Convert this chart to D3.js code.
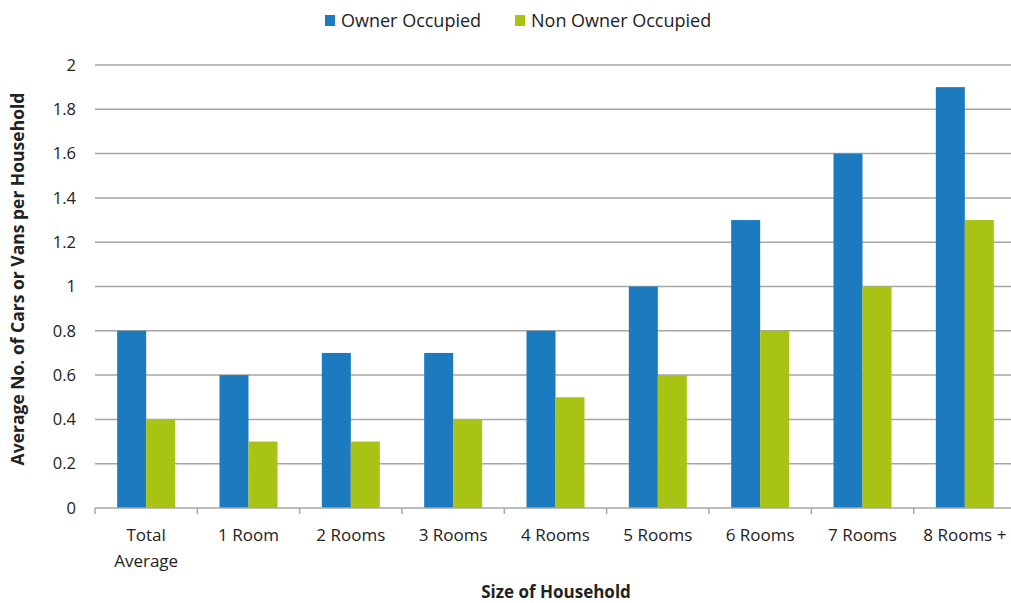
<!DOCTYPE html>
<html><head><meta charset="utf-8">
<script src="https://cdn.jsdelivr.net/npm/d3@7"></script>
<style>body{margin:0;background:#fff}svg{display:block;font-family:"Open Sans",sans-serif}</style>
</head><body><svg id="c" width="1011" height="603"></svg>
<script>
const categories = ["Total Average","1 Room","2 Rooms","3 Rooms","4 Rooms","5 Rooms","6 Rooms","7 Rooms","8 Rooms +"];
const ownerOccupied = [0.8,0.6,0.7,0.7,0.8,1.0,1.3,1.6,1.9];
const nonOwnerOccupied = [0.4,0.3,0.3,0.4,0.5,0.6,0.8,1.0,1.3];
const seriesNames = ["Owner Occupied","Non Owner Occupied"];
const yTicks = [0,0.2,0.4,0.6,0.8,1,1.2,1.4,1.6,1.8,2];
const colors = ["#1c7bbf","#a8c313"];

const svg = d3.select("#c");
const m = {left:95, right:1016, top:65, bottom:508};
const x = d3.scaleBand().domain(categories).range([m.left,m.right]).paddingInner(0).paddingOuter(0);
const y = d3.scaleLinear().domain([0,2]).range([m.bottom,m.top]);
const bw = 29;

svg.append("g").selectAll("line").data(yTicks.filter(d=>d>0)).join("line")
  .attr("x1",m.left).attr("x2",m.right).attr("y1",d=>y(d)).attr("y2",d=>y(d))
  .attr("stroke","#a6a6a6").attr("stroke-width",1.5);

svg.append("g").selectAll("text").data(yTicks).join("text")
  .attr("x",76).attr("y",d=>y(d)).attr("dy","0.35em").attr("text-anchor","end")
  .attr("font-size",16.5).attr("fill","#222").text(d=>d);

const data = categories.map((c,i)=>({c, v:[ownerOccupied[i], nonOwnerOccupied[i]]}));
const g = svg.append("g");
data.forEach(d=>{
  const cx = x(d.c)+x.bandwidth()/2;
  d.v.forEach((v,j)=>{
    g.append("rect").attr("x", cx - bw + j*bw).attr("width",bw)
      .attr("y",y(v)).attr("height",y(0)-y(v)).attr("fill",colors[j]);
  });
});

svg.append("line").attr("x1",m.left).attr("x2",m.right).attr("y1",y(0)).attr("y2",y(0))
  .attr("stroke","#a6a6a6").attr("stroke-width",1.5);
svg.append("g").selectAll("line").data(categories).join("line")
  .attr("x1",d=>x(d)).attr("x2",d=>x(d)).attr("y1",y(0)).attr("y2",y(0)+6)
  .attr("stroke","#a6a6a6").attr("stroke-width",1.5);

const xl = svg.append("g").selectAll("text").data(categories).join("text")
  .attr("text-anchor","middle").attr("font-size",17).attr("fill","#222")
  .attr("x",d=>x(d)+x.bandwidth()/2).attr("y",541);
xl.each(function(d){
  const words = d==="Total Average" ? ["Total","Average"] : [d];
  const t = d3.select(this);
  words.forEach((w,i)=>t.append("tspan").attr("x",x(d)+x.bandwidth()/2).attr("dy",i?26:0).text(w));
});

svg.append("text").attr("x",556).attr("y",598).attr("text-anchor","middle")
  .attr("font-size",17).attr("font-weight","bold").attr("fill","#222").text("Size of Household");
svg.append("text").attr("transform","translate(24,279) rotate(-90)").attr("text-anchor","middle")
  .attr("font-size",17.5).attr("font-weight","bold").attr("fill","#222")
  .text("Average No. of Cars or Vans per Household");

const lx = [325,515];
seriesNames.forEach((s,i)=>{
  svg.append("rect").attr("x",lx[i]).attr("y",15).attr("width",10).attr("height",11).attr("fill",colors[i]);
  svg.append("text").attr("x",lx[i]+16).attr("y",21).attr("dy","0.35em").attr("font-size",18)
    .attr("fill","#222").text(s);
});
</script></body></html>
